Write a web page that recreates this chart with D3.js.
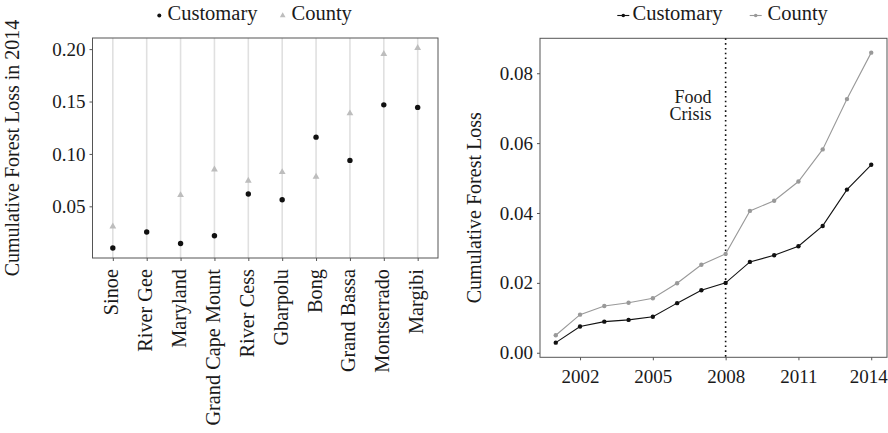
<!DOCTYPE html>
<html>
<head>
<meta charset="utf-8">
<script src="https://cdn.jsdelivr.net/npm/d3@7"></script>
<style>
  body { margin: 0; background: #fff; }
  svg { display: block; font-family: "Liberation Serif", "Times New Roman", serif; }
</style>
</head>
<body>
<svg id="chart" width="888" height="433"></svg>
<script>
// ---- Data ----
const counties = ["Sinoe","River Gee","Maryland","Grand Cape Mount","River Cess","Gbarpolu","Bong","Grand Bassa","Montserrado","Margibi"];
const customary2014 = [0.0102,0.0255,0.0146,0.0219,0.0617,0.0563,0.1160,0.0938,0.1468,0.1444];
const county2014 = [0.0308,null,0.0607,0.0852,0.0744,0.0827,0.0782,0.1387,0.1953,0.2011];
const leftYTicks = [0.05,0.10,0.15,0.20];

const years = [2001,2002,2003,2004,2005,2006,2007,2008,2009,2010,2011,2012,2013,2014];
const customarySeries = [0.0029,0.0075,0.0089,0.0094,0.0103,0.0142,0.0179,0.0200,0.0260,0.0279,0.0305,0.0363,0.0467,0.0538];
const countySeries = [0.0050,0.0109,0.0134,0.0143,0.0156,0.0199,0.0252,0.0283,0.0406,0.0435,0.0490,0.0582,0.0726,0.0859];
const rightYTicks = [0.00,0.02,0.04,0.06,0.08];
const rightXTicks = [2002,2005,2008,2011,2014];
const crisisYear = 2008;
const crisisLabel = ["Food","Crisis"];
const legendLabels = ["Customary","County"];

// ---- Styles ----
const textColor = "#1a1a1a";
const borderColor = "#555";
const countyTri = "#bdbdbd";
const countyLine = "#999";
const custColor = "#111";

const svg = d3.select("#chart");

// ================= LEFT PANEL =================
const L = {x0: 92.5, x1: 438, y0: 38, y1: 258};
const xL = d3.scalePoint().domain(counties).range([L.x0, L.x1]).padding(0.6);
const yL = d3.scaleLinear().domain([0.0007, 0.2106]).range([L.y1, L.y0]);

const gL = svg.append("g");
gL.selectAll("line.vg").data(counties).join("line")
  .attr("x1", d => xL(d)).attr("x2", d => xL(d))
  .attr("y1", L.y0).attr("y2", L.y1)
  .attr("stroke", "#e0e0e0").attr("stroke-width", 1.6);

const axL = gL.append("g").attr("transform", `translate(${L.x0},0)`)
  .call(d3.axisLeft(yL).tickValues(leftYTicks).tickFormat(d3.format(".2f")).tickSize(3).tickPadding(4));
axL.select(".domain").remove();
axL.selectAll("line").attr("stroke", borderColor);
axL.selectAll("text").attr("font-size", 19).attr("fill", textColor).attr("font-family", "Liberation Serif, serif");

const axLx = gL.append("g").attr("transform", `translate(0,${L.y1})`)
  .call(d3.axisBottom(xL).tickSize(3).tickFormat(""));
axLx.select(".domain").remove();
axLx.selectAll("line").attr("stroke", borderColor);
gL.selectAll("text.cat").data(counties).join("text")
  .attr("class", "cat")
  .attr("transform", d => `translate(${xL(d)},269) rotate(-90)`)
  .attr("text-anchor", "end").attr("dy", "0.27em")
  .attr("font-size", 20.3).attr("fill", textColor)
  .text(d => d);

gL.append("rect").attr("x", L.x0).attr("y", L.y0).attr("width", L.x1 - L.x0).attr("height", L.y1 - L.y0)
  .attr("fill", "none").attr("stroke", borderColor).attr("stroke-width", 1);

const tri = d3.symbol().type(d3.symbolTriangle).size(20);
gL.selectAll("path.cty").data(counties.map((c, i) => ({c, v: county2014[i]})).filter(d => d.v != null)).join("path")
  .attr("d", tri).attr("transform", d => `translate(${xL(d.c)},${yL(d.v)})`)
  .attr("fill", countyTri);
gL.selectAll("circle.cus").data(counties.map((c, i) => ({c, v: customary2014[i]}))).join("circle")
  .attr("cx", d => xL(d.c)).attr("cy", d => yL(d.v)).attr("r", 2.7)
  .attr("fill", custColor);

svg.append("text").attr("transform", `translate(19,${(L.y0 + L.y1) / 2}) rotate(-90)`)
  .attr("text-anchor", "middle").attr("font-size", 20).attr("fill", textColor)
  .text("Cumulative Forest Loss in 2014");

// legend left
svg.append("circle").attr("cx", 159.3).attr("cy", 15.5).attr("r", 2).attr("fill", custColor);
svg.append("text").attr("x", 167.5).attr("y", 20).attr("font-size", 20.5).attr("fill", textColor).text(legendLabels[0]);
svg.append("path").attr("d", d3.symbol().type(d3.symbolTriangle).size(14)).attr("transform", "translate(282.7,15.5)").attr("fill", countyTri);
svg.append("text").attr("x", 291.5).attr("y", 20).attr("font-size", 20.5).attr("fill", textColor).text(legendLabels[1]);

// ================= RIGHT PANEL =================
const R = {x0: 540, x1: 887, y0: 38.3, y1: 357.3};
const xR = d3.scaleLinear().domain([2000.35, 2014.65]).range([R.x0, R.x1]);
const yR = d3.scaleLinear().domain([-0.0013, 0.0900]).range([R.y1, R.y0]);
const gR = svg.append("g");

const axRy = gR.append("g").attr("transform", `translate(${R.x0},0)`)
  .call(d3.axisLeft(yR).tickValues(rightYTicks).tickFormat(d3.format(".2f")).tickSize(3).tickPadding(4));
axRy.select(".domain").remove();
axRy.selectAll("line").attr("stroke", borderColor);
axRy.selectAll("text").attr("font-size", 19).attr("fill", textColor).attr("font-family", "Liberation Serif, serif");

const axRx = gR.append("g").attr("transform", `translate(0,${R.y1})`)
  .call(d3.axisBottom(xR).tickValues(rightXTicks).tickFormat(d3.format("d")).tickSize(3).tickPadding(9));
axRx.select(".domain").remove();
axRx.selectAll("line").attr("stroke", borderColor);
axRx.selectAll("text").attr("font-size", 19).attr("fill", textColor).attr("font-family", "Liberation Serif, serif")
  .attr("dx", d => d === rightXTicks[rightXTicks.length - 1] ? -3 : 0);

gR.append("rect").attr("x", R.x0).attr("y", R.y0).attr("width", R.x1 - R.x0).attr("height", R.y1 - R.y0)
  .attr("fill", "none").attr("stroke", borderColor).attr("stroke-width", 1);

gR.append("line").attr("x1", xR(crisisYear)).attr("x2", xR(crisisYear))
  .attr("y1", R.y0).attr("y2", R.y1)
  .attr("stroke", "#111").attr("stroke-width", 1.6).attr("stroke-dasharray", "1.6,3.2");
gR.selectAll("text.crisis").data(crisisLabel).join("text")
  .attr("class", "crisis")
  .attr("x", xR(crisisYear) - 14).attr("y", (d, i) => 103 + i * 16.5)
  .attr("text-anchor", "end").attr("font-size", 18).attr("fill", textColor)
  .text(d => d);

const line = d3.line().x((d, i) => xR(years[i])).y(d => yR(d));
gR.append("path").datum(countySeries).attr("d", line).attr("fill", "none").attr("stroke", countyLine).attr("stroke-width", 1.1);
gR.selectAll("circle.cs").data(countySeries).join("circle")
  .attr("cx", (d, i) => xR(years[i])).attr("cy", d => yR(d)).attr("r", 2.2).attr("fill", countyLine);
gR.append("path").datum(customarySeries).attr("d", line).attr("fill", "none").attr("stroke", custColor).attr("stroke-width", 1.1);
gR.selectAll("circle.us").data(customarySeries).join("circle")
  .attr("cx", (d, i) => xR(years[i])).attr("cy", d => yR(d)).attr("r", 2.2).attr("fill", custColor);

svg.append("text").attr("transform", `translate(481,${(R.y0 + R.y1) / 2 + 10}) rotate(-90)`)
  .attr("text-anchor", "middle").attr("font-size", 20).attr("fill", textColor)
  .text("Cumulative Forest Loss");

// legend right
[[623.3, custColor, 632.5, legendLabels[0]], [755.7, countyLine, 767.5, legendLabels[1]]].forEach(([cx, col, tx, lab]) => {
  svg.append("line").attr("x1", cx - 6).attr("x2", cx + 6).attr("y1", 15.5).attr("y2", 15.5).attr("stroke", col).attr("stroke-width", 1.1);
  svg.append("circle").attr("cx", cx).attr("cy", 15.5).attr("r", 1.8).attr("fill", col);
  svg.append("text").attr("x", tx).attr("y", 20).attr("font-size", 20.5).attr("fill", textColor).text(lab);
});
</script>
</body>
</html>
